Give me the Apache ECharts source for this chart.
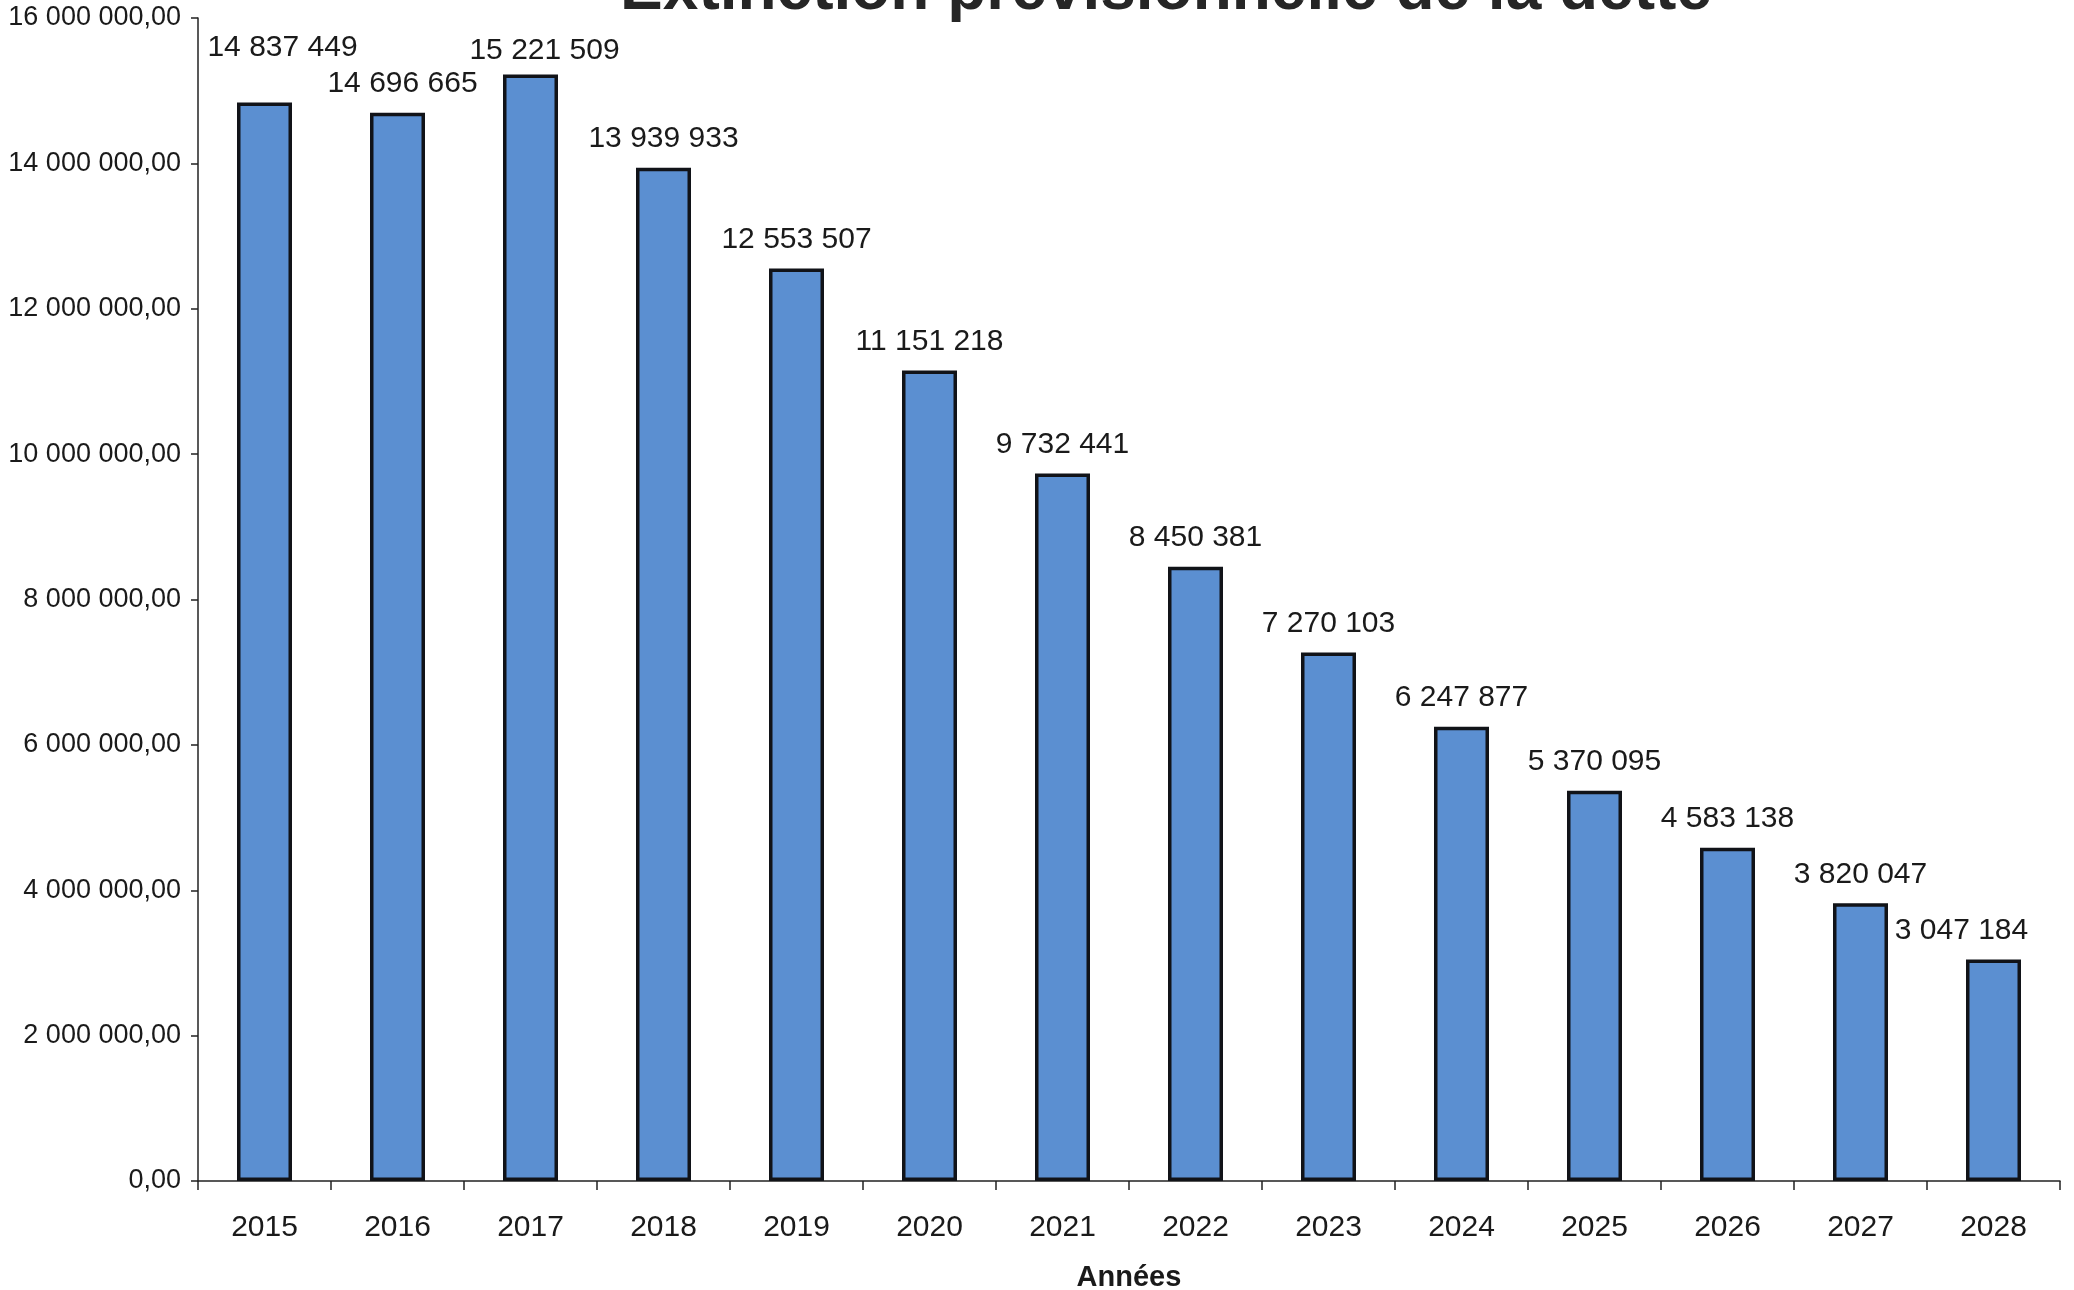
<!DOCTYPE html>
<html>
<head>
<meta charset="utf-8">
<title>Extinction prévisionnelle de la dette</title>
<script src="https://cdn.jsdelivr.net/npm/echarts@6/dist/echarts.min.js"></script>
<style>
  html, body { margin: 0; padding: 0; background: #ffffff; }
  #chart { width: 2074px; height: 1290px; }
</style>
</head>
<body>
<div id="chart"></div>
<script>
// Capital restant dû en fin d'année (euros)
const years = ['2015', '2016', '2017', '2018', '2019', '2020', '2021',
               '2022', '2023', '2024', '2025', '2026', '2027', '2028'];
const remainingDebt = [14837449, 14696665, 15221509, 13939933, 12553507, 11151218, 9732441,
                       8450381, 7270103, 6247877, 5370095, 4583138, 3820047, 3047184];
const yMin = 0;
const yMax = 16000000;
const yStep = 2000000;

// French number formatting: spaces between thousands, comma for decimals
function groupThousands(intStr) {
  return intStr.replace(/\B(?=(\d{3})+(?!\d))/g, ' ');
}
function formatAxis(v) {
  return groupThousands(Math.round(v).toString()) + ',00';
}
function formatLabel(v) {
  return groupThousands(Math.round(v).toString());
}

// A few labels are nudged so they sit clear of their neighbours
const labelNudge = { '2015': [18, -26], '2016': [5, 0], '2017': [14, 5], '2028': [-32, 0] };

const FONT = '"Liberation Sans", Arial, sans-serif';

const chart = echarts.init(document.getElementById('chart'), null, { renderer: 'canvas' });

const barData = remainingDebt.map((v, i) => {
  const item = { value: v };
  const nudge = labelNudge[years[i]];
  if (nudge) item.label = { offset: nudge };
  return item;
});

chart.setOption({
  animation: false,
  backgroundColor: '#ffffff',
  title: {
    text: 'Extinction prévisionnelle de la dette',
    left: 1161,
    textAlign: 'center',
    top: -46,
    textStyle: { fontFamily: FONT, fontSize: 64, fontWeight: 'bold', color: '#262626' }
  },
  grid: {
    left: 198, right: 14, top: 18, bottom: 109,
    containLabel: false,
    outerBoundsMode: 'none'
  },
  xAxis: {
    type: 'category',
    data: years,
    name: 'Années',
    nameLocation: 'middle',
    nameGap: 82,
    nameTextStyle: { fontFamily: FONT, fontSize: 29, fontWeight: 'bold', color: '#1a1a1a' },
    axisLine: { lineStyle: { color: '#222', width: 1.5 } },
    axisTick: { show: true, length: 9, lineStyle: { color: '#222', width: 1.5 } },
    axisLabel: { fontFamily: FONT, fontSize: 30, color: '#1a1a1a', margin: 32 },
    splitLine: { show: false }
  },
  yAxis: {
    type: 'value',
    min: yMin,
    max: yMax,
    interval: yStep,
    axisLine: { show: true, lineStyle: { color: '#222', width: 1.5 } },
    axisTick: { show: true, length: 7, lineStyle: { color: '#222', width: 1.5 } },
    axisLabel: { fontFamily: FONT, fontSize: 27, color: '#1a1a1a', margin: 17, formatter: formatAxis },
    splitLine: { show: false }
  },
  series: [{
    type: 'bar',
    data: barData,
    barWidth: 55,
    itemStyle: { color: '#5b8fd1', borderColor: '#111318', borderWidth: 3.5 },
    label: {
      show: true,
      position: 'top',
      distance: 14,
      fontFamily: FONT,
      fontSize: 30,
      color: '#1a1a1a',
      formatter: p => formatLabel(p.value)
    }
  }]
});
</script>
</body>
</html>
